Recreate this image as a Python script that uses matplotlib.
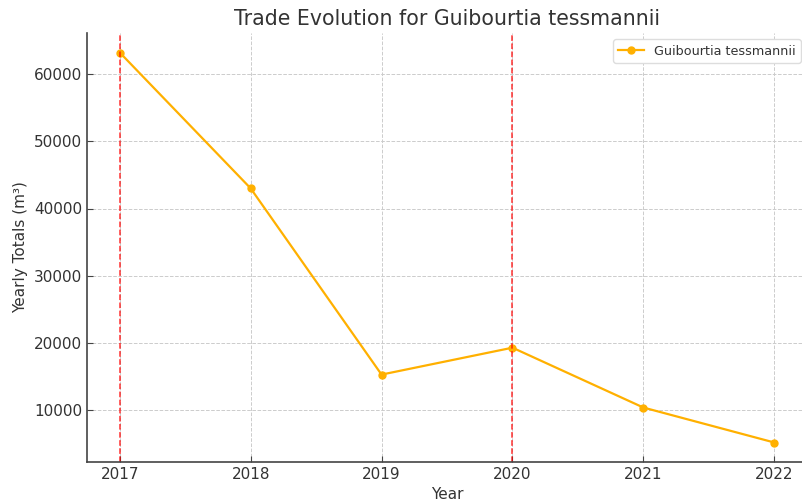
import matplotlib
matplotlib.use("Agg")
import matplotlib.pyplot as plt

# data
years = [2017, 2018, 2019, 2020, 2021, 2022]
totals = [63200, 43000, 15300, 19300, 10400, 5200]
marked_years = [2017, 2020]
species = "Guibourtia tessmannii"

TEXT = "#333333"
SPINE = "#444444"

plt.rcParams["font.family"] = "DejaVu Sans"
plt.rcParams["text.color"] = TEXT
plt.rcParams["axes.labelcolor"] = TEXT
plt.rcParams["xtick.color"] = SPINE
plt.rcParams["ytick.color"] = SPINE
plt.rcParams["xtick.labelcolor"] = TEXT
plt.rcParams["ytick.labelcolor"] = TEXT

fig = plt.figure(figsize=(8.02, 5.03), dpi=100)
# axes runs slightly past the right edge, as in the cropped original
ax = fig.add_axes([87 / 802, 1 - 462 / 503, (807 - 87) / 802, (462 - 33) / 503])

ax.plot(years, totals, marker="o", color="#FFB000", linewidth=1.6,
        markersize=5, label=species)
for yr in marked_years:
    ax.axvline(yr, color="red", linestyle="--", linewidth=1.1, alpha=0.8)

ax.set_title(f"Trade Evolution for {species}", fontsize=14.8, color=TEXT)
ax.set_xlabel("Year", fontsize=11)
ax.set_ylabel("Yearly Totals (m³)", fontsize=11)
ax.set_xticks(years)
ax.tick_params(direction="in", labelsize=11, length=4)

ax.grid(True, linestyle="--", color="#cccccc", linewidth=0.7)
ax.set_axisbelow(True)
for side in ("top", "right"):
    ax.spines[side].set_visible(False)
for side in ("left", "bottom"):
    ax.spines[side].set_color(SPINE)
    ax.spines[side].set_linewidth(1.2)

ax.legend(loc="upper right", fontsize=9.2, framealpha=1, edgecolor="#dddddd")

fig.savefig("out.png", dpi=100)
